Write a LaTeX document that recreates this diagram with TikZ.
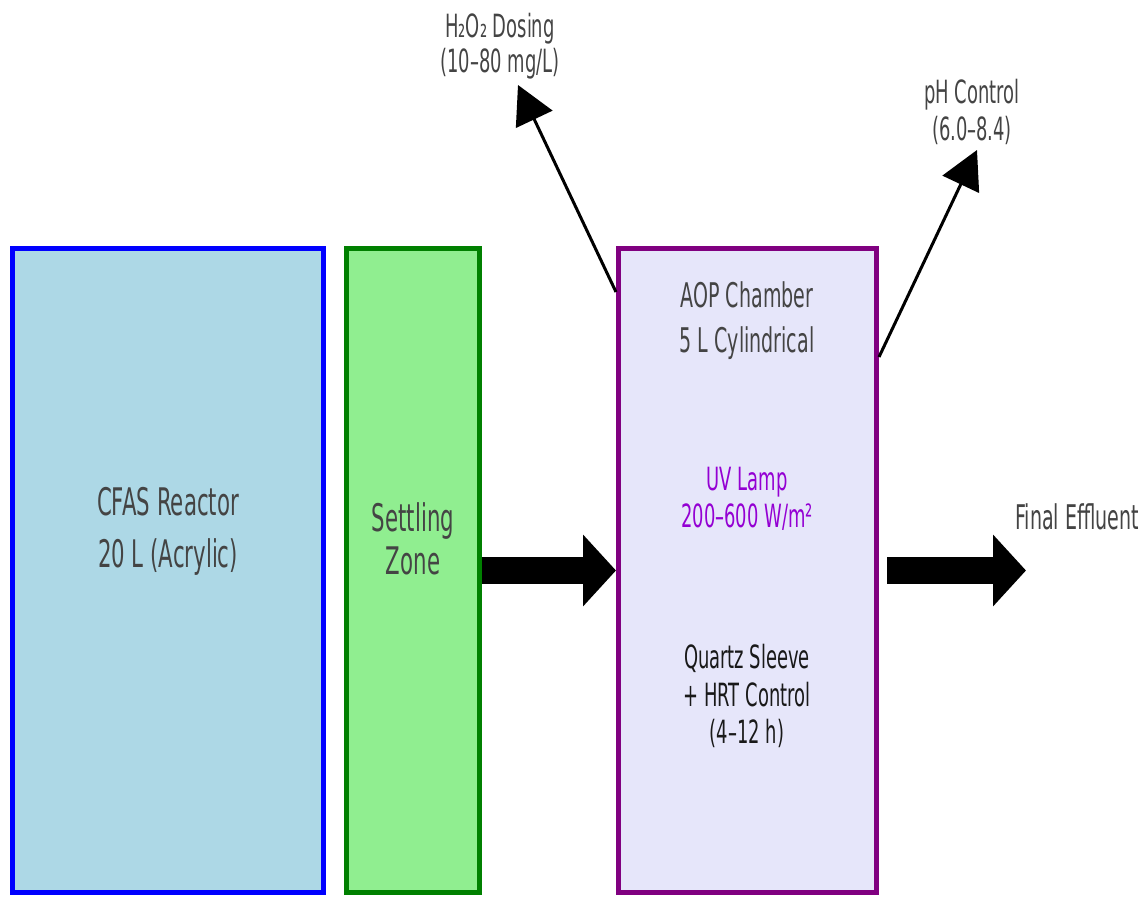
\documentclass[tikz,border=0pt]{standalone}
\usepackage{fontspec}
\setmainfont{DejaVu Sans}[FakeStretch=0.56]
\usetikzlibrary{arrows.meta,positioning}
\definecolor{lightblue}{HTML}{ADD8E6}
\definecolor{darkgreen}{HTML}{008000}
\definecolor{lightgreen}{HTML}{90EE90}
\definecolor{aoppurple}{HTML}{800080}
\definecolor{lavender}{HTML}{E6E6FA}
\definecolor{uvviolet}{HTML}{9400D3}
\definecolor{txtgray}{HTML}{444444}
\begin{document}
\begin{tikzpicture}[x=0.5pt,y=-0.5pt,
	box/.style={draw, rectangle, line width=2.5pt, minimum height=322pt},
	lbl/.style={text=txtgray, align=center, inner sep=0pt},
	fat/.style={line width=13.5pt, -{Triangle[width=35pt,length=16.5pt]}},
	thin/.style={line width=1.5pt, -{Triangle[width=20pt,length=19pt]}}]
		\useasboundingbox (0,0) rectangle (1148,898);
		\node (cfas) [box, draw=blue, fill=lightblue, minimum width=155.5pt] at (168,570.5) {};
		\node (settle) [box, draw=darkgreen, fill=lightgreen, minimum width=66.5pt, right=9pt of cfas] {};
		\node (aop) [box, draw=aoppurple, fill=lavender, minimum width=129pt, right=67pt of settle] {};
		\node (cfastxt) [lbl, font=\fontsize{19pt}{26pt}\selectfont] at (168,531) {CFAS Reactor\\20 L (Acrylic)};
		\node (settletxt) [lbl, font=\fontsize{19pt}{21.5pt}\selectfont] at (413,539) {Settling\\Zone};
		\node (aoptxt) [lbl, font=\fontsize{17pt}{22.5pt}\selectfont] at (747,321) {AOP Chamber\\5 L Cylindrical};
		\node (uv) [lbl, text=uvviolet, font=\fontsize{16pt}{18.75pt}\selectfont] at (747,499) {UV Lamp\\200--600 W/m²};
		\node (quartz) [lbl, text=black!90, font=\fontsize{16pt}{18.75pt}\selectfont] at (747,696) {Quartz Sleeve\\+ HRT Control\\(4--12 h)};
		\node (effl) [lbl, font=\fontsize{17pt}{20pt}\selectfont] at (1077,517) {Final Effluent};
		\node (dose) [lbl, font=\fontsize{16pt}{17.5pt}\selectfont] at (500,46) {H₂O₂ Dosing\\(10--80 mg/L)};
		\node (ph) [lbl, font=\fontsize{16pt}{18.5pt}\selectfont] at (972,112) {pH Control\\(6.0--8.4)};
		\coordinate (doseTip) at (518,85);
		\coordinate (phTip) at (977,150);
		\coordinate (outTip) at (1026,570.5);
		\draw[fat] (settle) -- (aop);
		\draw[fat] ([xshift=4pt]aop.east) -- (outTip);
		\draw[thin] ([yshift=-23pt]aop.north west) -- (doseTip);
		\draw[thin] ([yshift=-55.5pt]aop.north east) -- (phTip);
\end{tikzpicture}
\end{document}
